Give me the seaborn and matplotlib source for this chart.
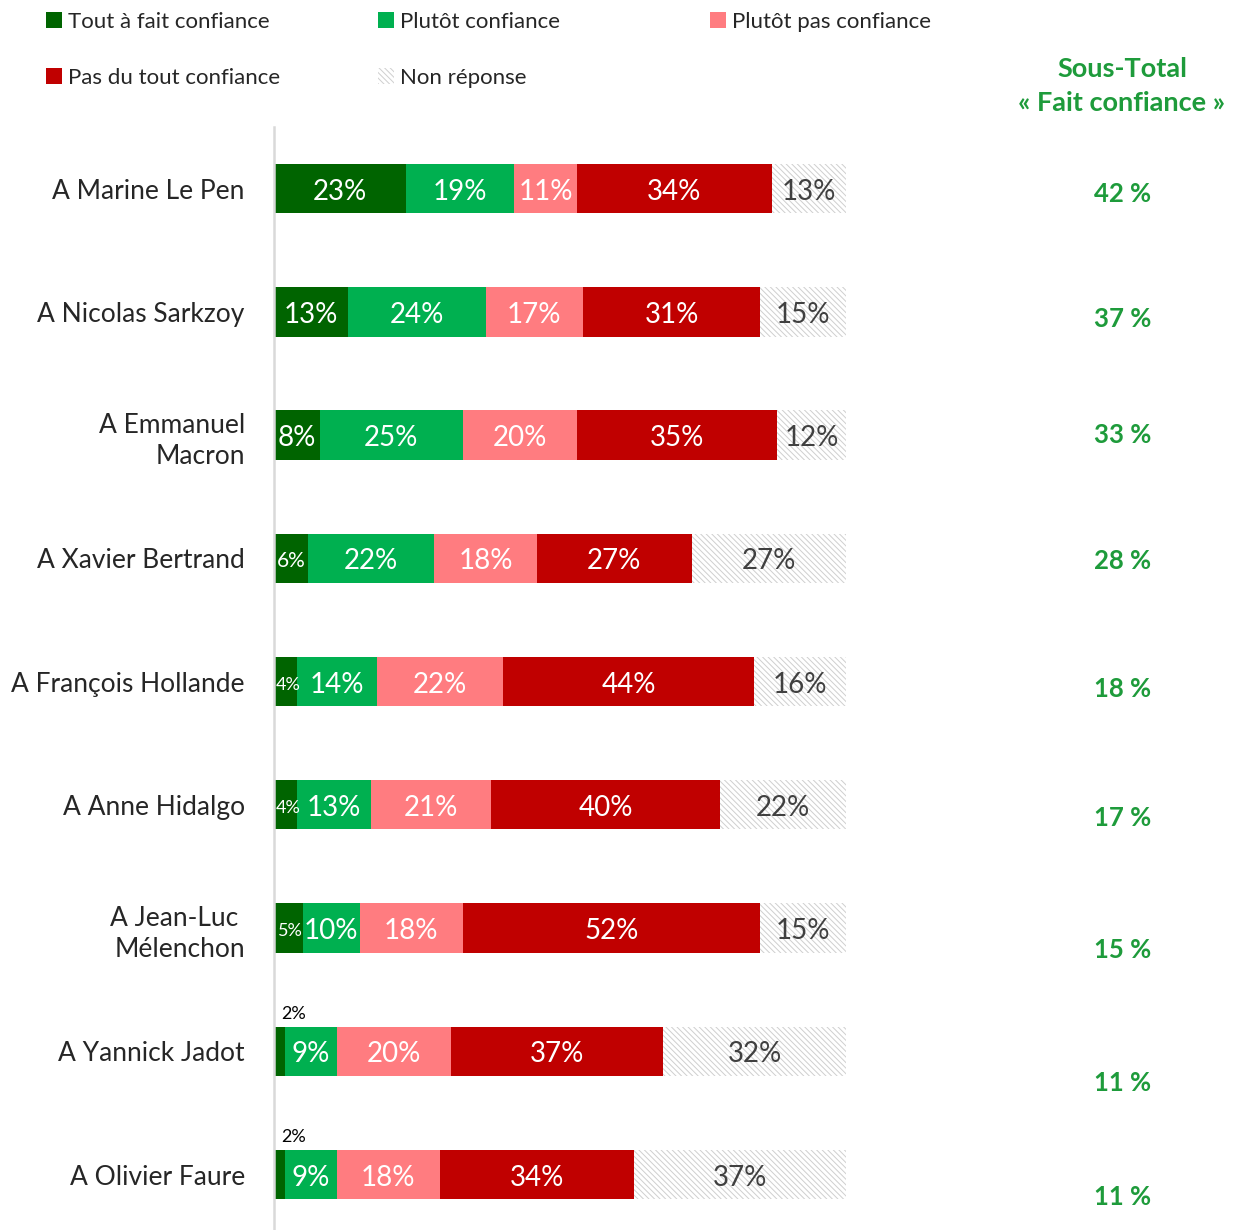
import numpy as np
import pandas as pd
import matplotlib
matplotlib.use("Agg")
import matplotlib.pyplot as plt
import seaborn as sns
from matplotlib.patches import Patch

# Données
personnalites = ["A Marine Le Pen", "A Nicolas Sarkzoy", "A Emmanuel\nMacron", "A Xavier Bertrand",
                 "A François Hollande", "A Anne Hidalgo", "A Jean-Luc \nMélenchon",
                 "A Yannick Jadot", "A Olivier Faure"]
tout_a_fait = [23, 13, 8, 6, 4, 4, 5, 2, 2]
plutot = [19, 24, 25, 22, 14, 13, 10, 9, 9]
plutot_pas = [11, 17, 20, 18, 22, 21, 18, 20, 18]
pas_du_tout = [34, 31, 35, 27, 44, 40, 52, 37, 34]
non_reponse = [13, 15, 12, 27, 16, 22, 15, 32, 37]
sous_total = [42, 37, 33, 28, 18, 17, 15, 11, 11]

categories = ["Tout à fait confiance", "Plutôt confiance", "Plutôt pas confiance",
              "Pas du tout confiance", "Non réponse"]
couleurs = ["#006400", "#00B050", "#FF7C80", "#C00000", "white"]

df = pd.DataFrame({"nom": personnalites, categories[0]: tout_a_fait, categories[1]: plutot,
                   categories[2]: plutot_pas, categories[3]: pas_du_tout, categories[4]: non_reponse})

sns.set_theme(style="white")
plt.rcParams["font.family"] = ["Lato", "DejaVu Sans"]
plt.rcParams["hatch.linewidth"] = 0.7

HACHURE = "\\\\\\\\\\\\"
GRIS_HACHURE = "#CFCFCF"

fig = plt.figure(figsize=(12.45, 12.3), dpi=100)
ax = fig.add_axes([274 / 1245, 0.0, 572 / 1245, 1 - 127 / 1230])

cum = df[categories].cumsum(axis=1)

# Barres empilées : on dessine du total vers la gauche
for cat, col in reversed(list(zip(categories, couleurs))):
    sns.barplot(x=cum[cat], y=df["nom"], orient="h", color=col, width=0.4,
                ax=ax, saturation=1, linewidth=0)
# hachures pour la non-réponse (premier lot de barres dessiné)
for p in ax.patches[:len(df)]:
    p.set_hatch(HACHURE)
    p.set_edgecolor(GRIS_HACHURE)
    p.set_linewidth(0)

ax.set_xlim(0, 100)
ax.set_ylim(8.45, -0.5)
ax.set_xlabel("")
ax.set_ylabel("")
ax.set_xticks([])
ax.tick_params(axis="y", length=0, pad=21, labelsize=19)
for lab in ax.get_yticklabels():
    lab.set_horizontalalignment("right")
    lab.set_linespacing(1.3)
for s in ["top", "right", "bottom"]:
    ax.spines[s].set_visible(False)
ax.spines["left"].set_color("#D9D9D9")
ax.spines["left"].set_linewidth(1.8)

# Étiquettes des segments
for i in range(len(df)):
    left = 0
    for j, cat in enumerate(categories):
        v = df[cat].iloc[i]
        xc = left + v / 2
        y = i + 0.025
        if j == 4:
            ax.text(xc, y, f"{v}%", ha="center", va="center", color="#404040", fontsize=20)
        elif v <= 2:
            ax.text(left + 3.5, i - 0.24, f"{v}%", ha="center", va="bottom", color="black", fontsize=13)
        elif v <= 5:
            ax.text(xc + 0.4, y, f"{v}%", ha="center", va="center", color="white", fontsize=13)
        elif v <= 6:
            ax.text(xc, y, f"{v}%", ha="center", va="center", color="white", fontsize=15)
        else:
            ax.text(xc, y, f"{v}%", ha="center", va="center", color="white", fontsize=20)
        left += v

# Sous-total
vert = "#1E9B3B"
decalage = [0.04, 0.06, 0.0, 0.02, 0.06, 0.11, 0.18, 0.26, 0.18]
for i, (st, d) in enumerate(zip(sous_total, decalage)):
    ax.text(148.4, i + d, f"{st} %", ha="center", va="center", color=vert,
            fontsize=18.5, fontweight="bold", clip_on=False)
fig.text(1122 / 1245, 1 - 86 / 1230, "Sous-Total\n« Fait confiance »", ha="center", va="center",
         color=vert, fontsize=19.5, fontweight="bold", linespacing=1.5)

# Légende en trois colonnes
handles = [Patch(facecolor=c, edgecolor=GRIS_HACHURE if c == "white" else c,
                 hatch=HACHURE if c == "white" else None, linewidth=0) for c in couleurs]
groupes = [[0, 3], [1, 4], [2]]
xs = [46, 378, 710]
for g, x0 in zip(groupes, xs):
    fig.legend([handles[k] for k in g], [categories[k] for k in g],
               loc="upper left", bbox_to_anchor=(x0 / 1245, 1 - 12 / 1230),
               frameon=False, fontsize=16, handlelength=0.7, handleheight=0.7,
               handletextpad=0.3, labelspacing=1.6, borderpad=0, borderaxespad=0)

fig.savefig("out.png", dpi=100)
plt.close(fig)
